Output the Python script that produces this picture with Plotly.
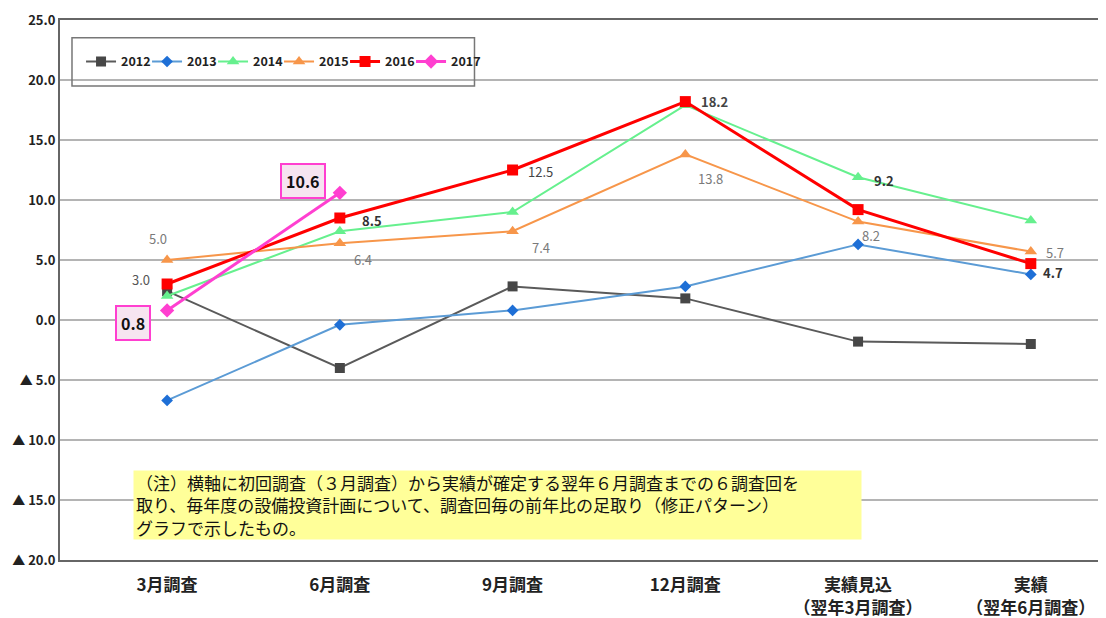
import plotly.graph_objects as go

categories = ["3月調査", "6月調査", "9月調査", "12月調査", "実績見込<br>（翌年3月調査）", "実績<br>（翌年6月調査）"]
years = ["2012", "2013", "2014", "2015", "2016", "2017"]
v2012 = [2.4, -4.0, 2.8, 1.8, -1.8, -2.0]
v2013 = [-6.7, -0.4, 0.8, 2.8, 6.3, 3.8]
v2014 = [2.0, 7.4, 9.0, 17.9, 11.9, 8.3]
v2015 = [5.0, 6.4, 7.4, 13.8, 8.2, 5.7]
v2016 = [3.0, 8.5, 12.5, 18.2, 9.2, 4.7]
v2017 = [0.8, 10.6]
y_ticks = [25, 20, 15, 10, 5, 0, -5, -10, -15, -20]
y_ticktext = ["25.0", "20.0", "15.0", "10.0", "5.0", "0.0", "▲ 5.0", "▲ 10.0", "▲ 15.0", "▲ 20.0"]
note = ("（注）横軸に初回調査（３月調査）から実績が確定する翌年６月調査までの６調査回を<br>"
        "取り、毎年度の設備投資計画について、調査回毎の前年比の足取り（修正パターン）<br>"
        "グラフで示したもの。")

FONT = "Noto Sans CJK JP"
values = [v2012, v2013, v2014, v2015, v2016, v2017]
line_colors = ["#5a5a5a", "#5b9bd5", "#66f08e", "#f7964a", "#ff0000", "#ff3fd0"]
marker_colors = ["#474747", "#1e6fd6", "#66f08e", "#f7964a", "#ff0000", "#ff3fd0"]
symbols = ["square", "diamond", "triangle-up", "triangle-up", "square", "diamond"]
msizes = [10, 9, 11, 11, 11, 11]
widths = [2, 2, 2, 2, 3, 3]

fig = go.Figure()
for yr, vals, lc, mc, sym, ms, w in zip(years, values, line_colors, marker_colors, symbols, msizes, widths):
    fig.add_trace(go.Scatter(
        x=list(range(len(vals))), y=vals, name=yr, mode="lines+markers",
        line=dict(color=lc, width=w),
        marker=dict(symbol=sym, size=ms, color=mc),
    ))
# empty legend entry so the last name is not clipped by the tight entry width
fig.add_trace(go.Scatter(x=[None], y=[None], name=" ", mode="lines",
                         line=dict(color="rgba(0,0,0,0)", width=0), hoverinfo="skip"))

# data labels: (series values, index, xshift, yshift, colour, bold)
labels = [
    (v2015, 0, -9, 22, "#7a7a7a", False),
    (v2016, 0, -26, 5, "#555555", False),
    (v2016, 1, 32, -2, "#333333", True),
    (v2015, 1, 23, -16, "#7a7a7a", False),
    (v2016, 2, 28, -1, "#444444", False),
    (v2015, 2, 28, -16, "#7a7a7a", False),
    (v2016, 3, 29, 0, "#444444", True),
    (v2015, 3, 25, -24, "#7a7a7a", False),
    (v2016, 4, 26, 29, "#333333", True),
    (v2015, 4, 13, -14, "#7a7a7a", False),
    (v2015, 5, 24, -1, "#7a7a7a", False),
    (v2016, 5, 22, -9, "#333333", True),
]
for vals, i, dx, dy, col, bold in labels:
    txt = f"{vals[i]:.1f}"
    fig.add_annotation(x=i, y=vals[i], text=f"<b>{txt}</b>" if bold else txt,
                       showarrow=False, xshift=dx, yshift=dy,
                       font=dict(family=FONT, size=13, color=col))

for i, dx, dy in [(0, -34, -13), (1, -37, 12)]:
    fig.add_annotation(x=i, y=v2017[i], text=f"<b>{v2017[i]:.1f}</b>", showarrow=False,
                       xshift=dx, yshift=dy, bgcolor="#f6e4f0", bordercolor="#ff3fd0",
                       borderwidth=2, borderpad=4,
                       font=dict(family=FONT, size=16, color="#111111"))

fig.add_annotation(xref="paper", yref="paper", x=0.069, y=0.167, xanchor="left", yanchor="top",
                   text=note, showarrow=False, align="left", valign="middle",
                   width=723, height=64, bgcolor="#ffff99", borderpad=2,
                   font=dict(family=FONT, size=17, color="#111111"))

# legend frame (the 20.0 gridline shows through it, as in the source)
fig.add_shape(type="rect", xref="paper", yref="paper", x0=0.0114, x1=0.394, y0=0.878, y1=0.967,
              line=dict(color="#777777", width=1.5), fillcolor="rgba(0,0,0,0)")

fig.update_xaxes(
    range=[-0.62, 5.47], tickvals=list(range(len(categories))), ticktext=categories,
    tickfont=dict(family=FONT, size=17, color="#222222", weight="bold"),
    showgrid=False, zeroline=False, showline=True, mirror=True, linecolor="#666666", linewidth=2,
    ticks="", ticklabelstandoff=9,
)
fig.update_yaxes(
    range=[-20, 25], tickvals=y_ticks, ticktext=y_ticktext,
    tickfont=dict(family=FONT, size=13, color="#222222", weight="bold"),
    showgrid=True, gridcolor="#b4b4b4", gridwidth=1.5, zeroline=False,
    showline=True, mirror=True, linecolor="#666666", linewidth=2, ticks="",
)
fig.update_layout(
    width=1106, height=618,
    margin=dict(l=52, r=0, t=12, b=66),
    plot_bgcolor="white", paper_bgcolor="white",
    legend=dict(orientation="h", x=0.02, y=0.9225, xanchor="left", yanchor="middle",
                bgcolor="rgba(0,0,0,0)", borderwidth=0,
                font=dict(family=FONT, size=12.5, color="#222222", weight="bold"),
                itemwidth=30, entrywidth=21),
    showlegend=True,
)
fig.write_html("out.html")
